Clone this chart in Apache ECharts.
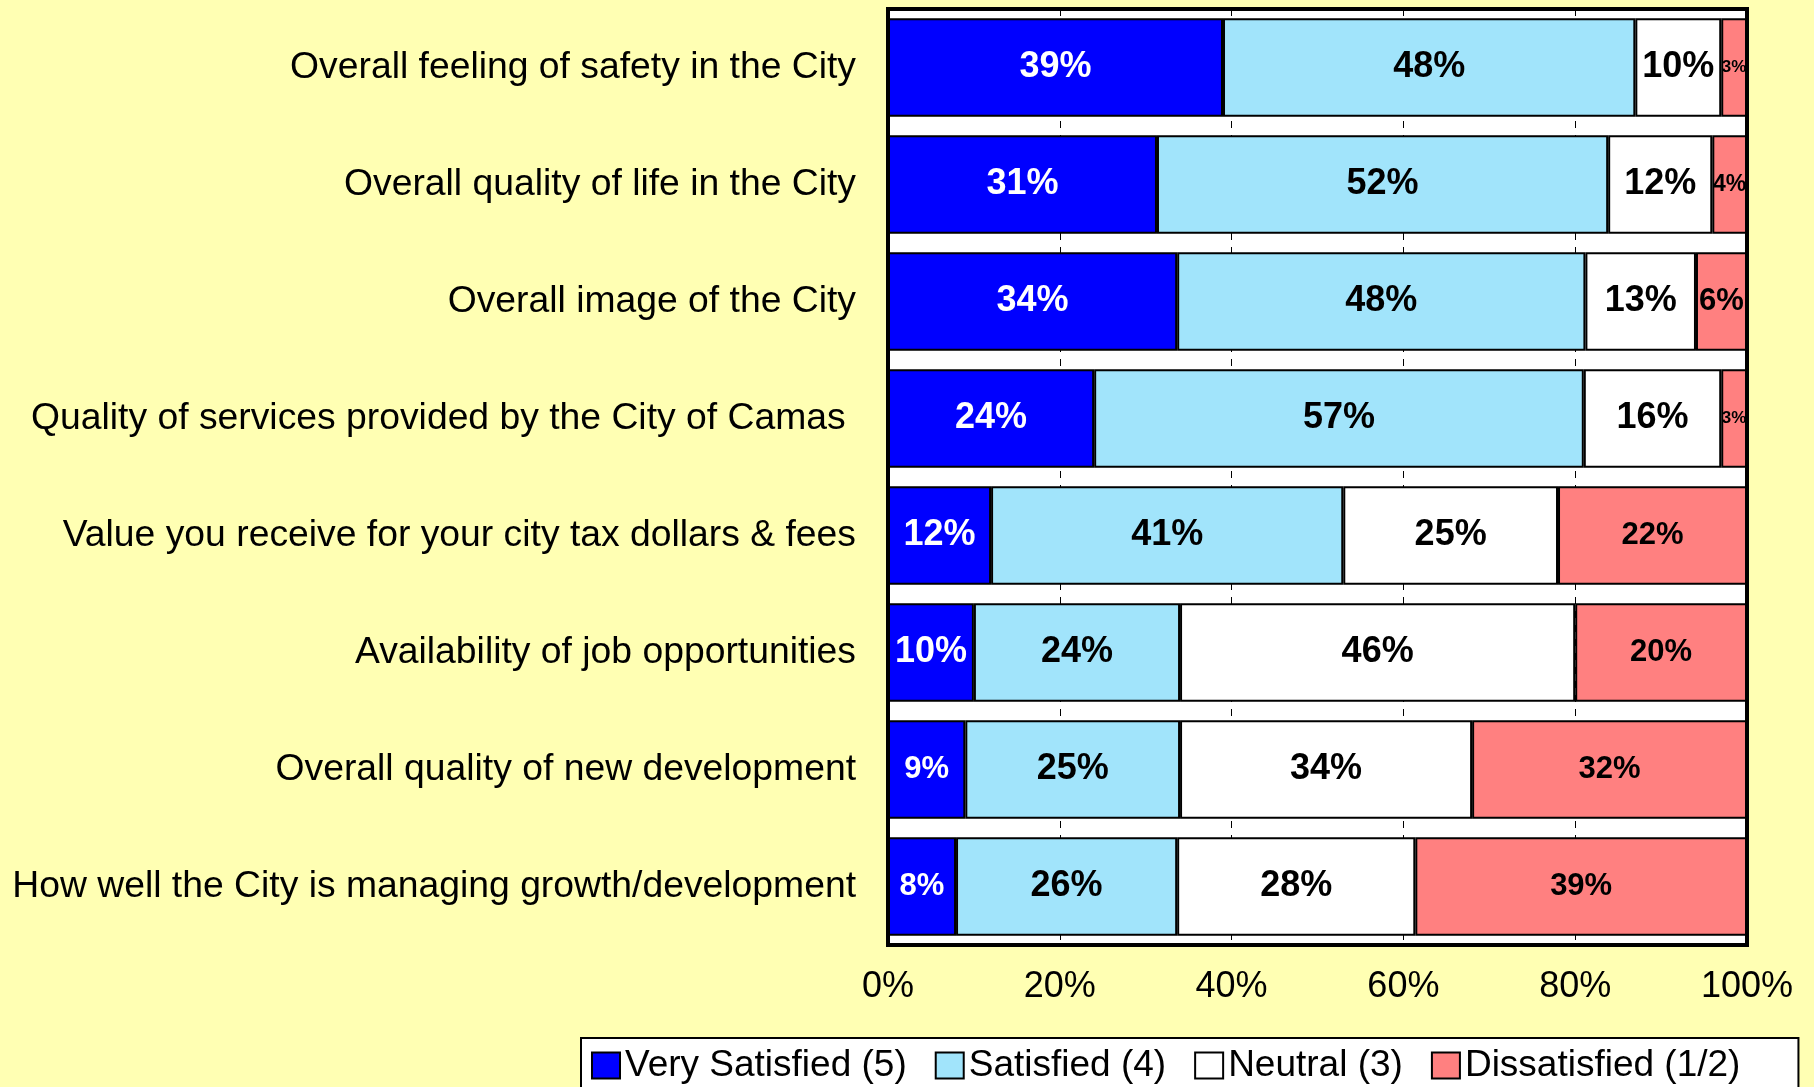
<!DOCTYPE html>
<html style="height: 100%">
<head>
<meta charset="utf-8">
<title>City satisfaction</title>
<style>
  html, body { margin: 0; padding: 0; background: #FFFFB3; }
  #chart { width: 1814px; height: 1087px; }
</style>
</head>
<body>
<div id="chart"></div>
<script src="https://cdn.jsdelivr.net/npm/echarts@6/dist/echarts.min.js"></script>
<script type="text/javascript">
// 分类 (top to bottom)
var categories = [
  'Overall feeling of safety in the City',
  'Overall quality of life in the City',
  'Overall image of the City',
  'Quality of services provided by the City of Camas ',
  'Value you receive for your city tax dollars & fees',
  'Availability of job opportunities',
  'Overall quality of new development',
  'How well the City is managing growth/development'
];
var seriesNames = ['Very Satisfied (5)', 'Satisfied (4)', 'Neutral (3)', 'Dissatisfied (1/2)'];
var verySatisfied = [39, 31, 34, 24, 12, 10, 9, 8];
var satisfied     = [48, 52, 48, 57, 41, 24, 25, 26];
var neutral       = [10, 12, 13, 16, 25, 46, 34, 28];
var dissatisfied  = [3, 4, 6, 3, 22, 20, 32, 39];
var xTicks = [0, 20, 40, 60, 80, 100];

var colors = ['#0000FF', '#A1E4FB', '#FFFFFF', '#FF8080'];
var labelColors = ['#FFFFFF', '#000000', '#000000', '#000000'];
var baseSize = [36, 36, 36, 31];
var FONT = '"Liberation Sans", Arial, sans-serif';
var plotWidth = 859;

var all = [verySatisfied, satisfied, neutral, dissatisfied];
var totals = categories.map(function (c, i) {
  return all[0][i] + all[1][i] + all[2][i] + all[3][i];
});

var series = all.map(function (arr, s) {
  return {
    name: seriesNames[s],
    type: 'bar',
    stack: 'total',
    barCategoryGap: '16%',
    itemStyle: { color: colors[s], borderColor: '#000', borderWidth: 2 },
    label: {
      show: true,
      position: 'inside',
      color: labelColors[s],
      fontFamily: FONT,
      fontWeight: 'bold',
      formatter: function (p) { return p.data.raw + '%'; }
    },
    data: arr.map(function (v, i) {
      var pct = v / totals[i] * 100;
      var size = baseSize[s];
      if (v < 10) size = Math.min(31, size);
      // 小段标签缩小
      size = Math.min(size, Math.round(pct * plotWidth / 100 / 1.5));
      return { value: pct, raw: v, label: { fontSize: size } };
    })
  };
});

var myChart = echarts.init(document.getElementById('chart'));
var option = {
  backgroundColor: '#FFFFB3',
  animation: false,
  grid: {
    left: 888, right: 67, top: 9, bottom: 142,
    outerBoundsMode: 'none',
    containLabel: false,
    show: true,
    backgroundColor: '#FFFFFF',
    borderColor: '#000000',
    borderWidth: 4
  },
  legend: {
    data: seriesNames,
    left: 581,
    top: 1038,
    orient: 'horizontal',
    backgroundColor: '#FFFFFF',
    borderColor: '#000000',
    borderWidth: 2,
    borderRadius: 0,
    padding: [9, 58, 40, 10],
    itemGap: 28,
    itemWidth: 28,
    itemHeight: 26,
    icon: 'rect',
    textStyle: { fontFamily: FONT, fontSize: 37, color: '#000' }
  },
  xAxis: {
    type: 'value',
    min: 0,
    max: 100,
    interval: 20,
    axisLine: { show: false },
    axisTick: { show: false },
    splitLine: { show: true, lineStyle: { color: '#000', width: 1, type: [7, 7] } },
    axisLabel: {
      margin: 24,
      color: '#000',
      fontFamily: FONT,
      fontSize: 36,
      formatter: function (v) { return xTicks.indexOf(v) >= 0 ? v + '%' : ''; }
    }
  },
  yAxis: {
    type: 'category',
    inverse: true,
    data: categories,
    axisLine: { show: false },
    axisTick: { show: false },
    axisLabel: {
      margin: 32,
      color: '#000',
      fontFamily: FONT,
      fontSize: 37.3
    }
  },
  series: series
};
myChart.setOption(option);
</script>
</body>
</html>
